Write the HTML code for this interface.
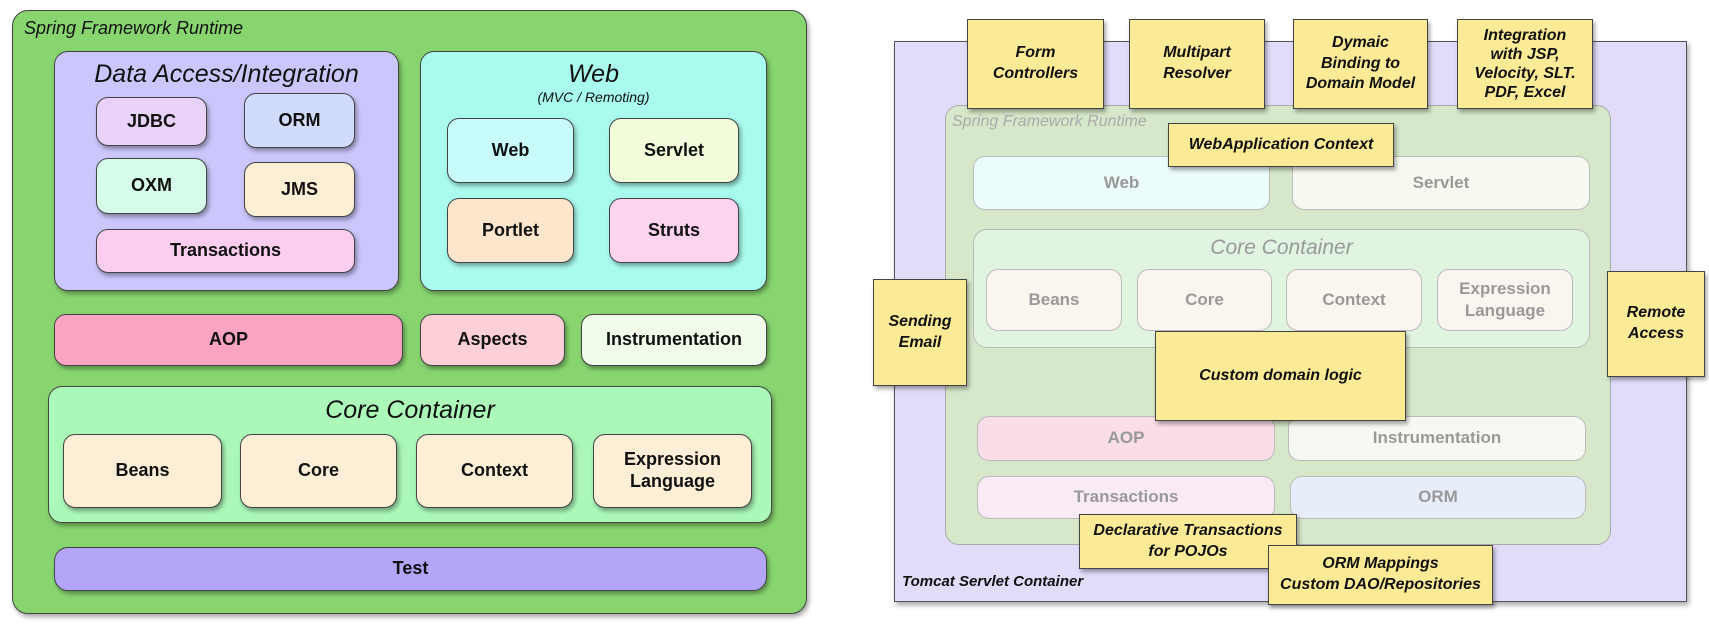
<!DOCTYPE html>
<html><head><meta charset="utf-8"><style>
body{margin:0;width:1709px;height:634px;background:#fff;position:relative;overflow:hidden;font-family:"Liberation Sans",sans-serif;}
.b{position:absolute;box-sizing:border-box;border:1.5px solid #444;border-radius:12px;display:flex;align-items:center;justify-content:center;text-align:center;font-weight:bold;font-size:18px;color:#111;box-shadow:2px 3px 4px rgba(0,0,0,0.35);line-height:1.2;}
.c{position:absolute;box-sizing:border-box;border:1.5px solid #444;border-radius:14px;box-shadow:2px 3px 5px rgba(0,0,0,0.35);}
.t{position:absolute;font-style:italic;white-space:nowrap;}
.f{position:absolute;box-sizing:border-box;border:1.5px solid #bbb;border-radius:12px;display:flex;align-items:center;justify-content:center;text-align:center;font-weight:bold;font-size:17px;color:#999;line-height:1.3;}
.y{position:absolute;box-sizing:border-box;border:1.5px solid #444;background:#fbeb96;display:flex;align-items:center;justify-content:center;text-align:center;font-weight:bold;font-style:italic;font-size:16px;color:#111;line-height:1.3;box-shadow:2px 3px 4px rgba(0,0,0,0.35);}
</style></head><body>
<!-- Left -->
<div class="c" style="left:12px;top:10px;width:795px;height:604px;background:#88d570;border-radius:16px"></div>
<div class="t" style="left:24px;top:18px;font-size:18px;color:#111">Spring Framework Runtime</div>
<div class="c" style="left:54px;top:51px;width:345px;height:240px;background:#cbc6fb"></div>
<div class="t" style="left:54px;width:345px;text-align:center;top:60px;font-size:25px;color:#111">Data Access/Integration</div>
<div class="b" style="left:96px;top:97px;width:111px;height:49px;background:#e8d2f8">JDBC</div>
<div class="b" style="left:244px;top:93px;width:111px;height:55px;background:#d1dcfd">ORM</div>
<div class="b" style="left:96px;top:158px;width:111px;height:56px;background:#d6fbe8">OXM</div>
<div class="b" style="left:244px;top:162px;width:111px;height:55px;background:#fdeed6">JMS</div>
<div class="b" style="left:96px;top:229px;width:259px;height:44px;background:#fdcdf0">Transactions</div>
<div class="c" style="left:420px;top:51px;width:347px;height:240px;background:#a9fbee"></div>
<div class="t" style="left:420px;width:347px;text-align:center;top:60px;font-size:25px;color:#111">Web</div>
<div class="t" style="left:420px;width:347px;text-align:center;top:89px;font-size:14px;color:#111">(MVC / Remoting)</div>
<div class="b" style="left:447px;top:118px;width:127px;height:65px;background:#c8fcfb">Web</div>
<div class="b" style="left:609px;top:118px;width:130px;height:65px;background:#f1fcda">Servlet</div>
<div class="b" style="left:447px;top:198px;width:127px;height:65px;background:#fde6cb">Portlet</div>
<div class="b" style="left:609px;top:198px;width:130px;height:65px;background:#fdd3ee">Struts</div>
<div class="b" style="left:54px;top:314px;width:349px;height:52px;background:#fba4c2">AOP</div>
<div class="b" style="left:420px;top:314px;width:145px;height:52px;background:#fdcfd6">Aspects</div>
<div class="b" style="left:581px;top:314px;width:186px;height:52px;background:#f1fbea">Instrumentation</div>
<div class="c" style="left:48px;top:386px;width:724px;height:137px;background:#abf8b9"></div>
<div class="t" style="left:48px;width:724px;text-align:center;top:396px;font-size:25px;color:#111">Core Container</div>
<div class="b" style="left:63px;top:434px;width:159px;height:74px;background:#fdeed6">Beans</div>
<div class="b" style="left:240px;top:434px;width:157px;height:74px;background:#fdeed6">Core</div>
<div class="b" style="left:416px;top:434px;width:157px;height:74px;background:#fdeed6">Context</div>
<div class="b" style="left:593px;top:434px;width:159px;height:74px;background:#fdeed6">Expression<br>Language</div>
<div class="b" style="left:54px;top:547px;width:713px;height:44px;background:#b5a5f8;border-radius:14px">Test</div>

<!-- Right -->
<div class="c" style="left:894px;top:41px;width:793px;height:561px;background:#e1dcfa;border-radius:0;border-color:#555"></div>
<div class="c" style="left:945px;top:105px;width:666px;height:440px;background:#d6e8c9;border-color:#aaa;box-shadow:none"></div>
<div class="t" style="left:952px;top:113px;font-size:16px;color:#aaa">Spring Framework Runtime</div>
<div class="f" style="left:973px;top:156px;width:297px;height:54px;background:#ebfcfb">Web</div>
<div class="f" style="left:1292px;top:156px;width:298px;height:54px;background:#f6f9ef">Servlet</div>
<div class="f" style="left:973px;top:229px;width:617px;height:119px;background:#e1f4e0;border-radius:14px"></div>
<div class="t" style="left:973px;width:617px;text-align:center;top:236px;font-size:21px;color:#999">Core Container</div>
<div class="f" style="left:986px;top:269px;width:136px;height:62px;background:#fbf5ef">Beans</div>
<div class="f" style="left:1137px;top:269px;width:135px;height:62px;background:#fbf5ef">Core</div>
<div class="f" style="left:1286px;top:269px;width:136px;height:62px;background:#fbf5ef">Context</div>
<div class="f" style="left:1437px;top:269px;width:136px;height:62px;background:#fbf5ef">Expression<br>Language</div>
<div class="f" style="left:977px;top:416px;width:298px;height:45px;background:#f9dde8">AOP</div>
<div class="f" style="left:1288px;top:416px;width:298px;height:45px;background:#f6f9f1">Instrumentation</div>
<div class="f" style="left:977px;top:476px;width:298px;height:43px;background:#f9eaf6">Transactions</div>
<div class="f" style="left:1290px;top:476px;width:296px;height:43px;background:#e8eef9">ORM</div>
<div class="t" style="left:902px;top:573px;font-size:15px;font-weight:bold;color:#111">Tomcat Servlet Container</div>

<div class="y" style="left:967px;top:19px;width:137px;height:90px">Form<br>Controllers</div>
<div class="y" style="left:1129px;top:19px;width:136px;height:90px">Multipart<br>Resolver</div>
<div class="y" style="left:1293px;top:19px;width:135px;height:90px">Dymaic<br>Binding to<br>Domain Model</div>
<div class="y" style="left:1457px;top:19px;width:136px;height:90px;line-height:1.2">Integration<br>with JSP,<br>Velocity, SLT.<br>PDF, Excel</div>
<div class="y" style="left:1168px;top:123px;width:226px;height:44px">WebApplication Context</div>
<div class="y" style="left:1155px;top:331px;width:251px;height:90px">Custom domain logic</div>
<div class="y" style="left:873px;top:279px;width:94px;height:107px">Sending<br>Email</div>
<div class="y" style="left:1607px;top:271px;width:98px;height:106px">Remote<br>Access</div>
<div class="y" style="left:1079px;top:514px;width:218px;height:55px">Declarative Transactions<br>for POJOs</div>
<div class="y" style="left:1268px;top:545px;width:225px;height:60px">ORM Mappings<br>Custom DAO/Repositories</div>
</body></html>
